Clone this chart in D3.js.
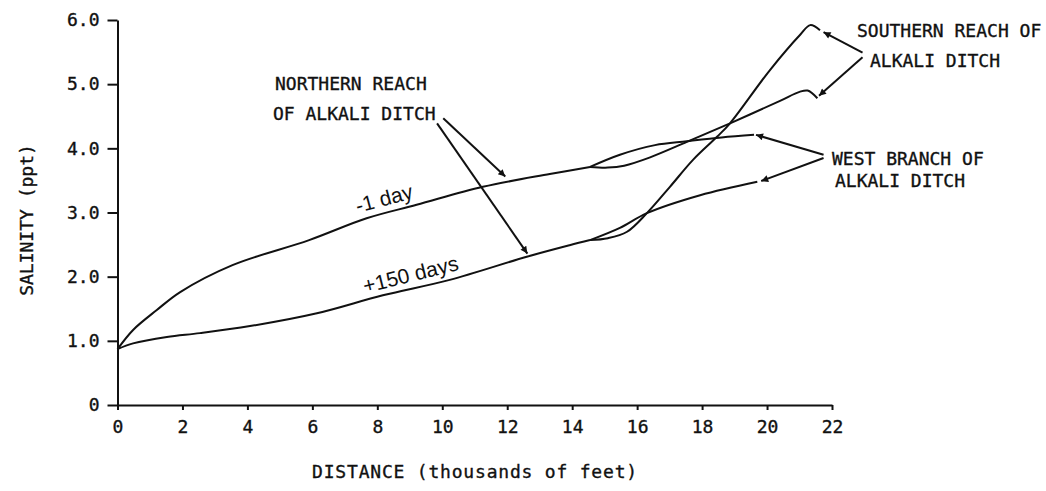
<!DOCTYPE html>
<html>
<head>
<meta charset="utf-8">
<script src="https://cdn.jsdelivr.net/npm/d3@7"></script>
<style>
  body { margin: 0; background: #fff; }
  svg text { fill: #111; }
  .mono { font-family: "DejaVu Sans Mono", "Liberation Mono", monospace; font-size: 18px; stroke: #111; stroke-width: 0.35px; }
  .curveLabel { font-family: "Liberation Sans", "DejaVu Sans", sans-serif; font-size: 21px; }
</style>
</head>
<body>
<div id="chart"></div>
<script>
// salinity along alkali ditch
var xTicks = [0, 2, 4, 6, 8, 10, 12, 14, 16, 18, 20, 22];
var yTicks = [0, 1, 2, 3, 4, 5, 6];

// -1 day, northern reach
var day1NorthX = [0, 0.48, 1.21, 1.93, 3.54, 5.9, 7.67, 9.21, 11.25, 13.31, 14.55];
var day1NorthY = [0.87, 1.17, 1.48, 1.76, 2.18, 2.57, 2.91, 3.12, 3.40, 3.60, 3.71];
// -1 day, west branch
var day1WestX = [14.55, 15.47, 16.55, 17.53, 18.6, 19.6];
var day1WestY = [3.71, 3.90, 4.05, 4.11, 4.17, 4.21];
// -1 day, southern reach
var day1SouthX = [14.55, 15.1, 15.6, 16.4, 17.53, 18.86, 20.4, 21.0, 21.25, 21.55];
var day1SouthY = [3.71, 3.70, 3.73, 3.86, 4.10, 4.39, 4.74, 4.88, 4.90, 4.78];

// +150 days, northern reach
var day150NorthX = [0, 0.48, 1.52, 2.54, 4.08, 6.14, 8.17, 10.23, 12.6, 13.92, 14.55];
var day150NorthY = [0.87, 0.96, 1.06, 1.12, 1.23, 1.43, 1.71, 1.95, 2.31, 2.49, 2.57];
// +150 days, west branch
var day150WestX = [14.55, 15.47, 16.3, 17.94, 19.7];
var day150WestY = [2.57, 2.76, 2.99, 3.27, 3.48];
// +150 days, southern reach
var day150SouthX = [14.55, 15.1, 15.69, 16.3, 17.01, 17.72, 18.46, 18.86, 20.09, 21.02, 21.33, 21.63];
var day150SouthY = [2.57, 2.60, 2.70, 2.99, 3.40, 3.82, 4.18, 4.39, 5.22, 5.77, 5.92, 5.84];

var svgWidth = 1046;
var svgHeight = 491;
var margin = { top: 20, left: 117.5 };
var width = 714.5;
var height = 385;

var svg = d3.select("#chart").append("svg")
  .attr("width", svgWidth)
  .attr("height", svgHeight);

var defs = svg.append("defs");
defs.append("marker")
  .attr("id", "head")
  .attr("markerUnits", "userSpaceOnUse")
  .attr("viewBox", "0 0 10 10")
  .attr("refX", 10).attr("refY", 5)
  .attr("markerWidth", 10).attr("markerHeight", 7)
  .attr("orient", "auto")
  .append("path").attr("d", "M0,0 L10,5 L0,10 Z").attr("fill", "#111");

var chartGroup = svg.append("g")
  .attr("transform", `translate(${margin.left}, ${margin.top})`);

var xScale = d3.scaleLinear().domain([0, 22]).range([0, width]);
var yScale = d3.scaleLinear().domain([0, 6]).range([height, 0]);

var bottomAxis = d3.axisBottom(xScale).tickValues(xTicks)
  .tickSizeInner(5).tickSizeOuter(0).tickPadding(10)
  .tickFormat(d3.format("d"));
var leftAxis = d3.axisLeft(yScale).tickValues(yTicks)
  .tickSizeInner(10).tickSizeOuter(0).tickPadding(8)
  .tickFormat(d => d === 0 ? "0" : d3.format(".1f")(d));

var xg = chartGroup.append("g").attr("transform", `translate(0, ${height})`).call(bottomAxis);
var yg = chartGroup.append("g").call(leftAxis);
[xg, yg].forEach(function(g) {
  g.selectAll("path, line").attr("stroke", "#111").attr("stroke-width", 2);
  g.selectAll("text").attr("class", "mono").attr("font-size", null).attr("font-family", null);
});

// curves
var line = d3.line()
  .x(d => xScale(d[0]))
  .y(d => yScale(d[1]))
  .curve(d3.curveCatmullRom.alpha(0.5));

var curves = [
  [day1NorthX, day1NorthY], [day1WestX, day1WestY], [day1SouthX, day1SouthY],
  [day150NorthX, day150NorthY], [day150WestX, day150WestY], [day150SouthX, day150SouthY]
];
chartGroup.selectAll(".salCurve")
  .data(curves.map(c => c[0].map((x, i) => [x, c[1][i]])))
  .enter().append("path")
  .attr("class", "salCurve")
  .attr("d", line)
  .attr("fill", "none")
  .attr("stroke", "#111")
  .attr("stroke-width", 2);

// labels on curves
chartGroup.append("text").attr("class", "curveLabel")
  .attr("transform", `translate(${xScale(7.4)}, ${yScale(2.99)}) rotate(-15)`)
  .text("-1 day");
chartGroup.append("text").attr("class", "curveLabel")
  .attr("transform", `translate(${xScale(7.62)}, ${yScale(1.74)}) rotate(-14)`)
  .text("+150 days");

// annotation arrows, in data units [x1, y1, x2, y2]
var arrows = [
  [10.03, 4.47, 11.94, 3.56],
  [9.84, 4.39, 12.62, 2.36],
  [22.94, 5.49, 21.74, 5.81],
  [22.94, 5.42, 21.6, 4.82],
  [21.74, 3.90, 19.66, 4.21],
  [21.74, 3.85, 19.82, 3.49]
];
chartGroup.selectAll(".arrow").data(arrows).enter().append("line")
  .attr("class", "arrow")
  .attr("x1", d => xScale(d[0])).attr("y1", d => yScale(d[1]))
  .attr("x2", d => xScale(d[2])).attr("y2", d => yScale(d[3]))
  .attr("stroke", "#111").attr("stroke-width", 2)
  .attr("marker-end", "url(#head)");

// annotation text
var notes = [
  ["NORTHERN REACH", 275, 90],
  ["OF ALKALI DITCH", 273, 120],
  ["SOUTHERN REACH OF", 857, 37],
  ["ALKALI DITCH", 870, 67],
  ["WEST BRANCH OF", 832, 165],
  ["ALKALI DITCH", 835, 187]
];
svg.selectAll(".note").data(notes).enter().append("text")
  .attr("class", "mono note")
  .attr("x", d => d[1]).attr("y", d => d[2])
  .text(d => d[0]);

// axis titles
svg.append("text").attr("class", "mono")
  .attr("text-anchor", "middle")
  .attr("x", 475).attr("y", 478)
  .attr("letter-spacing", "0.8")
  .text("DISTANCE (thousands of feet)");

svg.append("text").attr("class", "mono")
  .attr("text-anchor", "middle")
  .attr("transform", "translate(33, 220) rotate(-90)")
  .text("SALINITY (ppt)");
</script>
</body>
</html>
